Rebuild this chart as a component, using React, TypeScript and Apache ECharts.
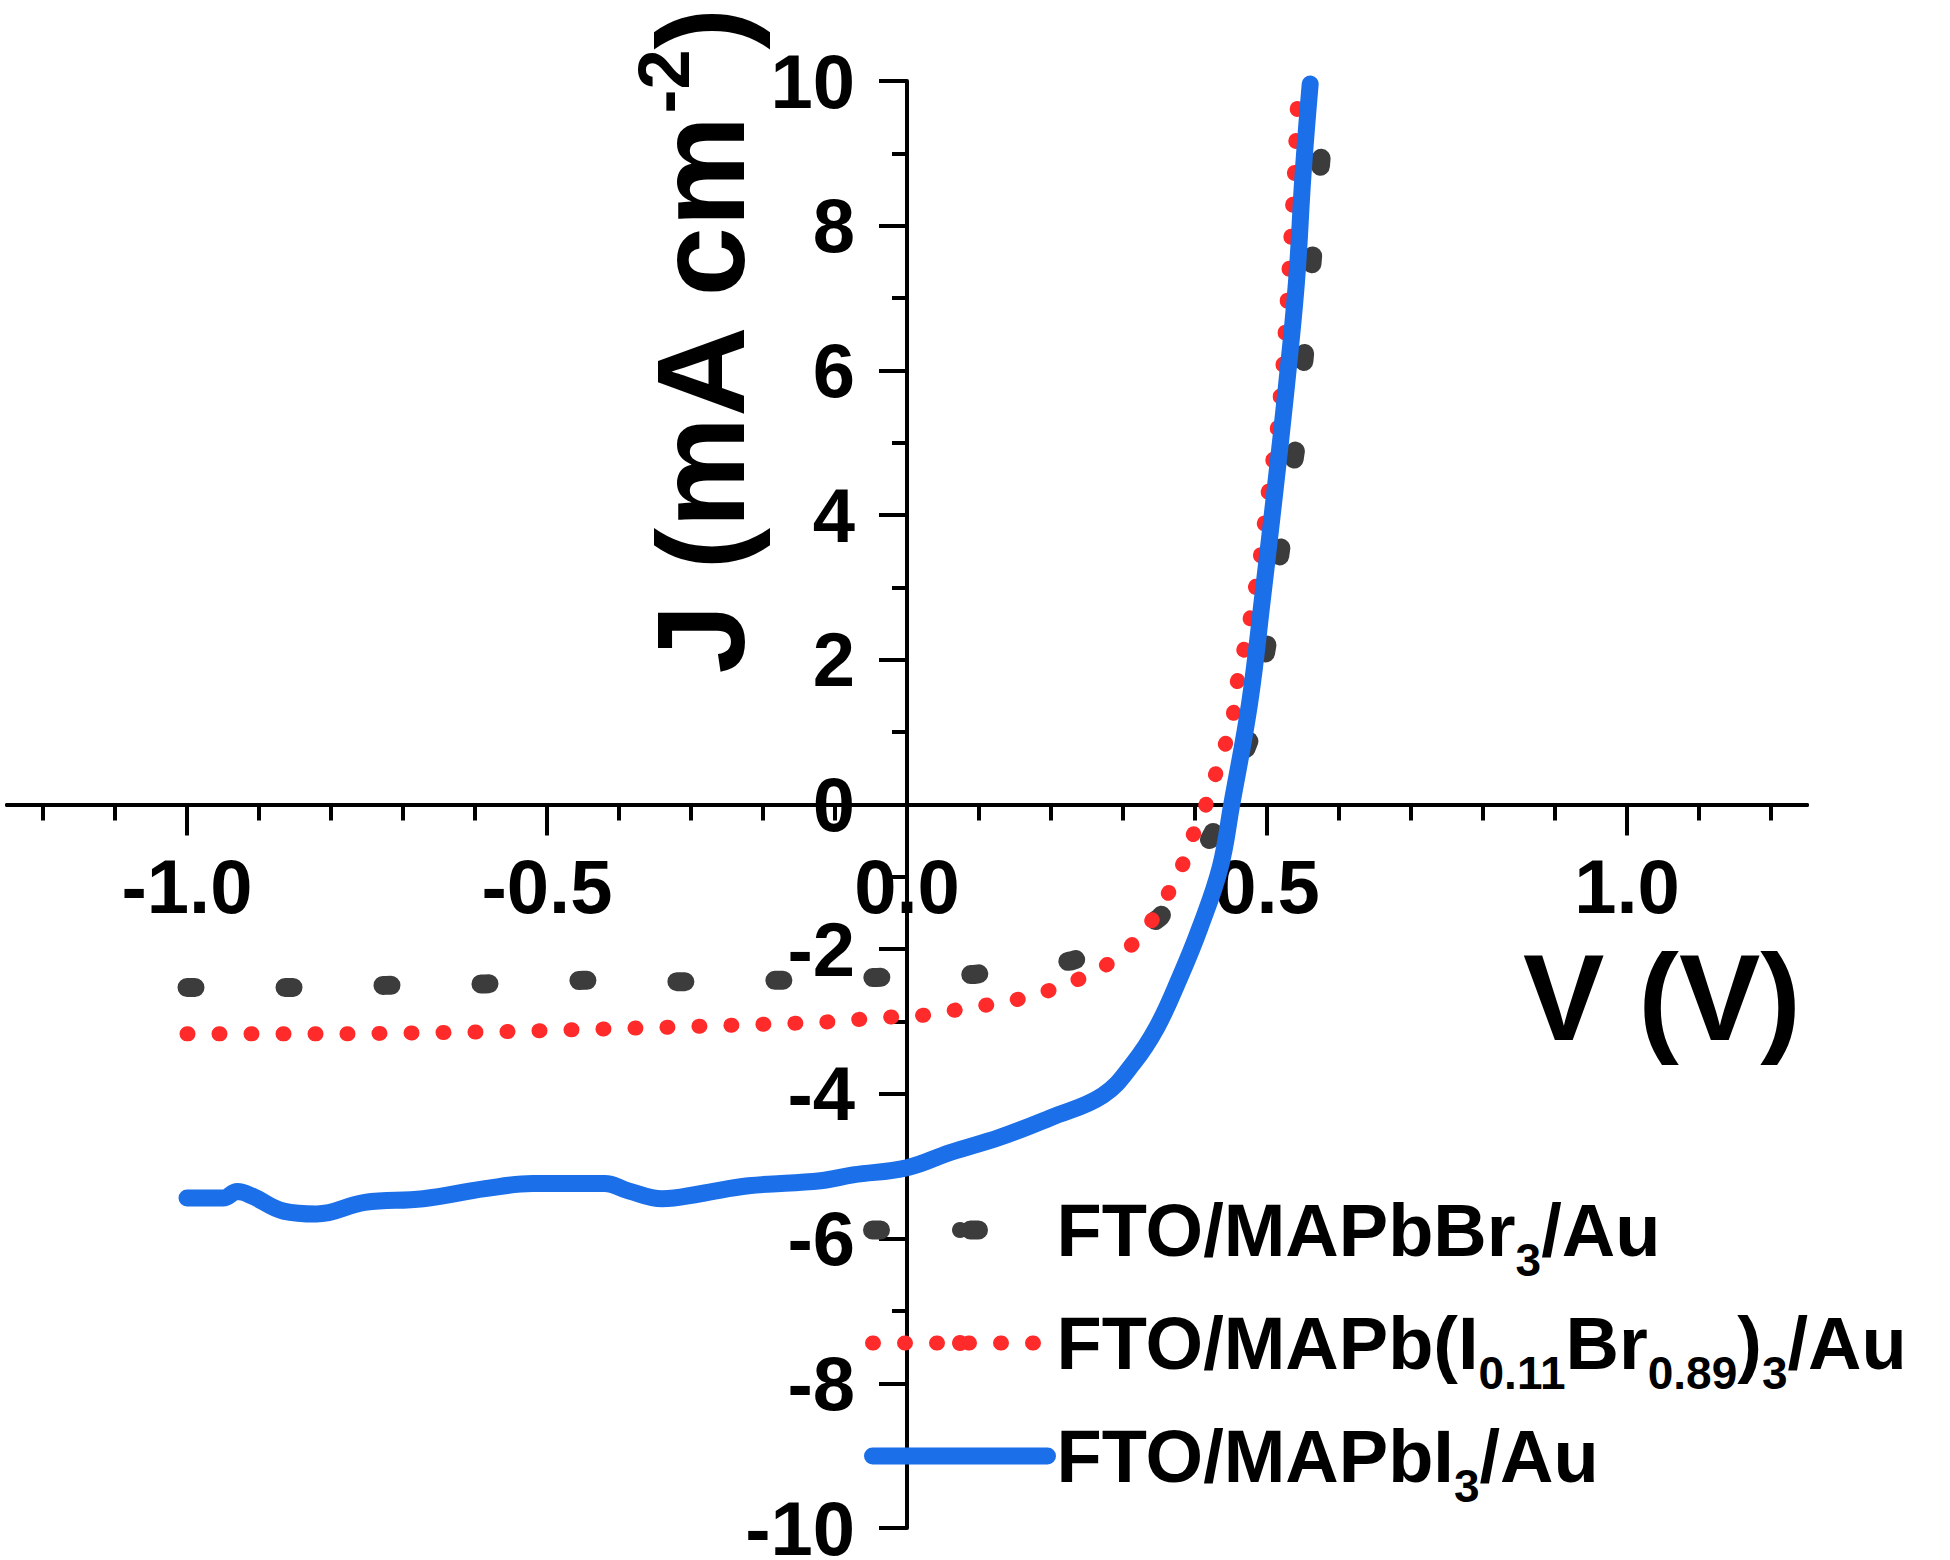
import React, { useEffect, useRef } from "react";
import * as echarts from "echarts";

const FONT = '"Liberation Sans", Arial, Helvetica, sans-serif';

// x-axis tick positions (V)
const xMajorTicks = [-1.0, -0.5, 0.0, 0.5, 1.0];
const xMinorTicks = [
  -1.2, -1.1, -0.9, -0.8, -0.7, -0.6, -0.4, -0.3, -0.2, -0.1,
  0.1, 0.2, 0.3, 0.4, 0.6, 0.7, 0.8, 0.9, 1.1, 1.2,
];
const xRange = [-1.25, 1.25];
const yRange = [-10, 10];
const yInterval = 2;

const seriesNames = [
  "FTO/MAPbBr3/Au",
  "FTO/MAPb(I0.11Br0.89)3/Au",
  "FTO/MAPbI3/Au",
];
const legendLabels = [
  "FTO/MAPbBr{s|3}/Au",
  "FTO/MAPb(I{s|0.11}Br{s|0.89}){s|3}/Au",
  "FTO/MAPbI{s|3}/Au",
];

// [V, J (mA cm-2)]
const mapbbr3 = [
  [-1.0, -2.53], [-0.857, -2.53], [-0.724, -2.5], [-0.586, -2.48], [-0.449, -2.43],
  [-0.313, -2.45], [-0.179, -2.43], [-0.042, -2.39], [0.093, -2.35], [0.229, -2.16],
  [0.3, -1.93], [0.351, -1.56], [0.392, -1.03], [0.425, -0.39], [0.455, 0.38],
  [0.479, 0.98], [0.501, 2.27], [0.52, 3.6], [0.541, 4.99], [0.553, 6.32],
  [0.564, 7.66], [0.576, 9.03], [0.58, 9.5],
];

const mapbMixed = [
  [-1.0, -3.17], [-0.78, -3.17], [-0.56, -3.14], [-0.339, -3.08], [-0.117, -3.01],
  [-0.028, -2.94], [0.018, -2.92], [0.062, -2.85], [0.106, -2.78], [0.147, -2.71],
  [0.189, -2.6], [0.229, -2.46], [0.271, -2.26], [0.305, -2.02], [0.334, -1.7],
  [0.359, -1.3], [0.38, -0.91], [0.397, -0.43], [0.414, -0.04], [0.428, 0.4],
  [0.442, 0.83], [0.453, 1.22], [0.458, 1.66], [0.476, 2.53], [0.49, 3.36],
  [0.501, 4.27], [0.514, 5.15], [0.522, 6.03], [0.528, 6.94], [0.533, 7.81],
  [0.538, 8.7], [0.542, 9.61], [0.545, 10.0],
];

const mapbi3 = [
  [-1.0, -5.44], [-0.95, -5.44], [-0.93, -5.35], [-0.91, -5.41], [-0.866, -5.62],
  [-0.82, -5.66], [-0.753, -5.5], [-0.672, -5.45], [-0.586, -5.31], [-0.52, -5.24],
  [-0.42, -5.24], [-0.387, -5.34], [-0.34, -5.45], [-0.287, -5.38], [-0.22, -5.27],
  [-0.12, -5.2], [-0.075, -5.12], [0.0, -5.02], [0.06, -4.81], [0.129, -4.6],
  [0.199, -4.33], [0.272, -4.02], [0.314, -3.58], [0.347, -3.08], [0.379, -2.39],
  [0.407, -1.7], [0.435, -0.87], [0.451, 0.0], [0.476, 1.41], [0.494, 2.87],
  [0.511, 4.33], [0.527, 5.78], [0.541, 7.23], [0.55, 8.7], [0.56, 9.96],
];

const seriesData = [mapbbr3, mapbMixed, mapbi3];
const seriesColors = ["#3c3c3c", "#ff2b2b", "#1b6fe8"];

const lineStyles = [
  { width: 19, type: [8, 90], cap: "round" },
  { width: 15, type: [1, 31], cap: "round" },
  { width: 17, type: "solid", cap: "round" },
];

const GRID = { left: 7, right: 143, top: 81, bottom: 32 };

export default function App() {
  const ref = useRef<HTMLDivElement>(null);

  useEffect(() => {
    document.body.style.margin = "0";
    if (!ref.current) return;
    const chart = echarts.init(ref.current, null, { renderer: "svg" });

    const W = 1950;
    const H = 1560;
    const plotW = W - GRID.left - GRID.right;
    const plotH = H - GRID.top - GRID.bottom;
    const zeroY = GRID.top + (plotH * yRange[1]) / (yRange[1] - yRange[0]);
    const zeroX = GRID.left + (plotW * -xRange[0]) / (xRange[1] - xRange[0]);
    // axes crossing at (0, 0): shift the bottom/left axes into the plot
    const xOffset = -(H - GRID.bottom - zeroY);
    const yOffset = -(zeroX - GRID.left);

    const axisLineStyle = { color: "#000", width: 4 };
    const labelStyle = {
      fontSize: 76,
      fontWeight: "bold",
      fontFamily: FONT,
      color: "#000",
    };

    const option: any = {
      animation: false,
      backgroundColor: "#fff",
      grid: { ...GRID, containLabel: false, outerBoundsMode: "none" },
      xAxis: [
        {
          type: "value",
          min: xRange[0],
          max: xRange[1],
          position: "bottom",
          offset: xOffset,
          axisLine: { show: true, onZero: false, lineStyle: axisLineStyle },
          axisTick: {
            show: true,
            customValues: xMajorTicks,
            length: 31,
            lineStyle: axisLineStyle,
          },
          axisLabel: {
            ...labelStyle,
            customValues: xMajorTicks,
            margin: 44,
            formatter: (v: number) => v.toFixed(1),
          },
          splitLine: { show: false },
        },
        {
          type: "value",
          min: xRange[0],
          max: xRange[1],
          position: "bottom",
          offset: xOffset,
          axisLine: { show: true, onZero: false, lineStyle: axisLineStyle },
          axisTick: {
            show: true,
            customValues: xMinorTicks,
            length: 16,
            lineStyle: axisLineStyle,
          },
          axisLabel: { show: false },
          splitLine: { show: false },
        },
      ],
      yAxis: {
        type: "value",
        min: yRange[0],
        max: yRange[1],
        interval: yInterval,
        position: "left",
        offset: yOffset,
        axisLine: { show: true, onZero: false, lineStyle: axisLineStyle },
        axisTick: { show: true, length: 28, lineStyle: axisLineStyle },
        minorTick: {
          show: true,
          splitNumber: 2,
          length: 15,
          lineStyle: axisLineStyle,
        },
        axisLabel: { ...labelStyle, margin: 52 },
        splitLine: { show: false },
        minorSplitLine: { show: false },
      },
      legend: {
        orient: "vertical",
        left: 858,
        top: 1172,
        itemWidth: 175,
        itemHeight: 20,
        itemGap: 7,
        selectedMode: false,
        data: seriesNames.map((name, i) => ({
          name,
          lineStyle: { ...lineStyles[i], color: seriesColors[i] },
        })),
        formatter: (name: string) => legendLabels[seriesNames.indexOf(name)],
        textStyle: {
          fontSize: 74,
          fontWeight: "bold",
          fontFamily: FONT,
          color: "#000",
          lineHeight: 84,
          padding: [0, 0, 0, 4],
          rich: {
            s: {
              fontSize: 46,
              fontWeight: "bold",
              fontFamily: FONT,
              color: "#000",
              lineHeight: 84,
              padding: [60, 0, 0, 0],
            },
          },
        },
      },
      graphic: [
        {
          type: "text",
          x: 1523,
          y: 998,
          style: {
            text: "V (V)",
            fontSize: 122,
            fontWeight: "bold",
            fontFamily: FONT,
            fill: "#000",
            align: "left",
            verticalAlign: "middle",
          },
        },
        {
          type: "text",
          x: 700,
          y: 342,
          rotation: Math.PI / 2,
          style: {
            text: "J (mA cm{sup|-2})",
            fontSize: 125,
            fontWeight: "bold",
            fontFamily: FONT,
            fill: "#000",
            align: "center",
            verticalAlign: "middle",
            rich: {
              sup: {
                fontSize: 72,
                fontWeight: "bold",
                fontFamily: FONT,
                fill: "#000",
                padding: [0, 0, 72, 0],
                lineHeight: 125,
              },
            },
          },
        },
      ],
      series: seriesNames.map((name, i) => ({
        name,
        type: "line",
        xAxisIndex: 0,
        yAxisIndex: 0,
        data: seriesData[i],
        symbol: "none",
        showSymbol: false,
        smooth: i === 2 ? 0.4 : false,
        clip: true,
        lineStyle: { ...lineStyles[i], color: seriesColors[i] },
        itemStyle: { color: seriesColors[i] },
        z: 2 + i,
      })),
    };

    chart.setOption(option);
    return () => chart.dispose();
  }, []);

  return <div ref={ref} style={{ width: 1950, height: 1560 }} />;
}
